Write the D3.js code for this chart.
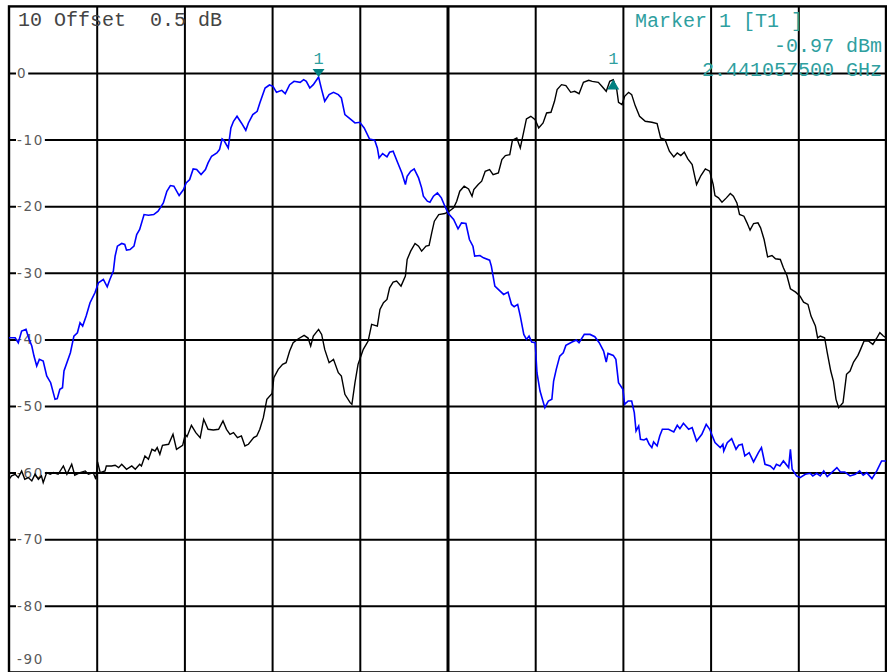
<!DOCTYPE html>
<html><head><meta charset="utf-8">
<script src="https://cdn.jsdelivr.net/npm/d3@7/dist/d3.min.js"></script>
<style>html,body{margin:0;padding:0;background:#fff;overflow:hidden}</style>
</head><body><svg id="c" width="887" height="672"></svg>
<script>
// ---- data ----
const spanGrid = [10, 20, 30, 40, 50, 60, 70, 80, 90];        // % of span, vertical divisions
const levelTicks = [0, -10, -20, -30, -40, -50, -60, -70, -80, -90]; // dBm
const levelTickLabels = ["0", "-10", "-20", "-30", "-40", "-50", "-60", "-70", "-80", "-90"];
const headerText = "10 Offset  0.5 dB";
const markerInfo = ["Marker 1 [T1 ]", "-0.97 dBm", "2.441057500 GHz"];
const markerPct = [35.3, 68.9];
const markerLevel = [-0.6, -0.97];
const markerDir = ["down", "up"];
const markerLabel = ["1", "1"];

// [% of span, dBm]
const blueTrace = [
[0,-39.75],[0.7,-39.75],[1.06,-40.5],[1.44,-38.75],[1.94,-38.5],[2.3,-40],[2.6,-41],[2.85,-42.5],[3.16,-44],[3.46,-43],
[3.9,-43.25],[4.3,-45.5],[4.75,-46.5],[5.25,-49],[5.5,-48.9],[5.8,-47.5],[6.1,-47.25],[6.27,-44.75],[7.0,-42],[7.4,-39.5],
[7.8,-39],[8.1,-37.5],[8.4,-38],[8.8,-36.5],[9.24,-34.5],[9.8,-33],[10.2,-31.5],[10.76,-31],[11.2,-32.1],[11.5,-31],
[11.9,-29.75],[12.1,-27.5],[12.36,-26],[12.85,-25.6],[13.2,-25.75],[13.4,-26.6],[13.8,-26.5],[14.25,-26],[14.56,-24.25],[14.9,-23.5],
[15.4,-21.25],[15.9,-21.35],[16.5,-21.25],[17.0,-20.75],[17.6,-19.5],[18.0,-17.75],[18.4,-16.9],[18.8,-17],[19.4,-18.4],[19.9,-17.5],
[20.2,-16.5],[20.6,-16],[21.0,-14.4],[21.4,-14.5],[21.9,-15.25],[22.4,-14.5],[22.7,-13.5],[23.1,-12.5],[23.7,-12],[24.0,-11.5],
[24.3,-9.9],[24.5,-10.1],[25.0,-11.25],[25.3,-8.25],[25.6,-7.25],[26.0,-6.5],[26.5,-7.5],[27.0,-8.6],[27.3,-7.5],[27.8,-6.25],
[28.3,-5.75],[28.6,-4.5],[29.2,-2.25],[29.7,-1.8],[30.1,-2],[30.5,-2.9],[31.1,-2.6],[31.5,-3.1],[32.0,-1.75],[32.5,-1.25],
[33.2,-1.4],[33.6,-1],[33.9,-1.25],[34.3,-2.25],[34.7,-1.75],[35.3,-0.6],[35.65,-2.5],[36.0,-4.25],[36.5,-3.25],[37.0,-2.9],
[37.55,-3.25],[37.9,-3.75],[38.3,-6.25],[38.9,-6.9],[39.45,-7.5],[40.0,-7.4],[40.5,-8.25],[41.1,-9.9],[41.7,-10.1],[42.0,-11.25],
[42.2,-12.75],[42.6,-12.1],[43.1,-12.6],[43.4,-11.9],[43.8,-11.75],[44.3,-13.4],[44.8,-15],[45.2,-16.75],[45.4,-15.5],[45.8,-14.75],
[46.2,-14.4],[46.7,-15.75],[47.05,-17.25],[47.25,-18.5],[47.7,-19.25],[48.0,-19.4],[48.4,-18.5],[48.85,-18],[49.3,-18.75],[49.7,-20],
[50.1,-21.1],[50.7,-22],[51.2,-23.4],[51.6,-22.5],[52.1,-22.6],[52.5,-25],[52.9,-26],[53.1,-27.5],[53.7,-27.4],[54.1,-27.75],
[54.8,-28.1],[55.0,-29],[55.4,-32],[56.0,-32.75],[56.4,-33.25],[56.9,-32.9],[57.3,-34.75],[57.6,-35.1],[58.0,-34.75],[58.3,-36.5],
[58.7,-39.25],[59.0,-40],[59.3,-39.5],[59.6,-40.4],[60.0,-40.5],[60.2,-45],[60.55,-47.75],[61.1,-50.25],[61.5,-49.25],[61.9,-49],
[62.1,-46.25],[62.4,-44.5],[62.8,-42.5],[63.2,-42],[63.5,-40.9],[64.2,-40.4],[64.7,-40.1],[65.0,-40.5],[65.6,-39.25],[66.25,-39.25],
[66.8,-39.6],[67.3,-40.5],[67.8,-41.75],[68.1,-43.4],[68.3,-42.1],[68.9,-42.4],[69.2,-43],[69.5,-46.5],[70.0,-47.5],[70.2,-49.75],
[70.6,-49.25],[71.0,-49.25],[71.3,-51],[71.5,-53.75],[71.8,-53],[72.0,-55],[72.4,-55.1],[72.7,-54.9],[73.0,-55.75],[73.3,-56.25],
[73.5,-55.4],[73.9,-56],[74.2,-54.5],[74.5,-53.5],[75.2,-53.5],[75.8,-53.9],[76.2,-52.9],[76.5,-53.4],[76.9,-52.6],[77.5,-53.5],
[77.9,-53.25],[78.4,-55.25],[79.0,-54.25],[79.5,-52.75],[79.9,-53.5],[80.5,-55.5],[81.1,-56.25],[81.4,-55.75],[81.5,-56.75],[81.9,-55.5],
[82.4,-54.9],[82.9,-56.5],[83.2,-55.9],[83.6,-55.75],[83.9,-57.5],[84.4,-57],[84.9,-58.4],[85.45,-57],[85.8,-56.25],[86.2,-58.75],
[86.8,-59],[87.2,-59.5],[87.5,-58.75],[87.9,-59],[88.3,-58.25],[88.9,-59.25],[89.1,-56.5],[89.3,-59.5],[89.8,-60.5],[90.2,-60.75],
[90.8,-60.25],[91.35,-60.1],[91.65,-60.5],[92.1,-60.1],[92.5,-60.5],[92.9,-59.75],[93.3,-60.6],[93.8,-60],[94.4,-59.25],[94.8,-59.9],
[95.3,-59.9],[95.9,-60.5],[96.5,-60.25],[97.0,-59.75],[97.4,-60.4],[97.8,-60],[98.4,-60.9],[98.95,-59.75],[99.5,-58.25],[100,-58.25]
];

const blackTrace = [
[0,-61],[0.3,-60.5],[0.7,-60.25],[1.06,-60.75],[1.44,-59.75],[1.8,-61],[2.2,-60.75],[2.6,-61.25],[2.97,-60.25],[3.35,-61],
[3.7,-60.5],[3.9,-61.5],[4.3,-60],[4.7,-60.25],[5.06,-60],[5.6,-60.25],[6.2,-59],[6.6,-60.25],[7.15,-58.75],[7.5,-60.4],
[8.1,-60],[8.7,-59.75],[9.05,-60.25],[9.6,-60],[9.9,-61],[10.1,-58.4],[10.4,-60],[10.95,-59.75],[11.1,-59],[11.7,-59],
[12.1,-58.9],[12.5,-59.25],[12.85,-58.75],[13.4,-59.5],[14.0,-59],[14.4,-59.5],[14.9,-58.75],[15.1,-59],[15.5,-57.5],[15.9,-58],
[16.3,-56.5],[16.65,-56.75],[16.9,-56.25],[17.2,-57.25],[17.5,-55.9],[18.2,-55.75],[18.7,-54.25],[19.1,-56.5],[19.8,-55.9],[20.1,-54.25],
[20.3,-54.6],[20.8,-52.9],[21.3,-54],[21.8,-54.75],[22.2,-52],[22.7,-53.5],[23.3,-53.6],[23.9,-53.5],[24.4,-52.25],[24.8,-53.5],
[25.2,-54.25],[25.6,-54],[26.05,-54.75],[26.5,-54.5],[26.9,-56],[27.3,-55.75],[27.9,-54.75],[28.25,-54.5],[28.6,-53.5],[29.0,-51.75],
[29.4,-49],[30.0,-48.1],[30.2,-45.75],[30.7,-44.5],[31.2,-43.75],[31.6,-43.5],[32.0,-41.75],[32.4,-40.5],[33.0,-39.9],[33.65,-39.4],
[34.1,-39.8],[34.4,-41],[34.7,-39.5],[35.3,-38.5],[35.65,-39.25],[36.0,-41.5],[36.5,-43.5],[37.0,-43],[37.55,-45],[37.9,-45.5],
[38.3,-48.25],[38.9,-49.5],[39.1,-49.75],[39.45,-46.5],[39.8,-43.75],[40.4,-41.5],[40.95,-40.25],[41.35,-37.75],[42.0,-38],[42.3,-35.5],
[42.7,-34.5],[43.1,-34],[43.4,-32.25],[43.8,-31.4],[44.2,-31.25],[44.7,-32],[45.2,-30.5],[45.4,-28],[45.8,-26.75],[46.3,-25.6],
[46.7,-26],[47.05,-26.75],[47.55,-26],[47.9,-25.9],[48.2,-24],[48.5,-22.25],[49.0,-21.25],[49.7,-21.1],[50.2,-20.75],[50.7,-20.25],
[51.05,-19.25],[51.4,-17.75],[51.9,-17],[52.4,-17.4],[52.8,-18.5],[53.0,-17.5],[53.5,-16.75],[53.9,-16.25],[54.3,-14.75],[54.8,-14.5],
[55.2,-15.25],[55.8,-15],[56.2,-13],[56.6,-12.4],[57.1,-12.25],[57.4,-10.1],[57.9,-9.75],[58.3,-11.25],[58.7,-8.75],[59.0,-6.9],
[59.5,-6.5],[60.0,-7],[60.4,-8.25],[60.9,-7.5],[61.3,-6],[61.8,-5.9],[62.2,-4.25],[62.5,-2.5],[63.0,-1.75],[63.5,-1.9],
[64.05,-2.9],[64.5,-2.75],[65.0,-3.1],[65.5,-1.4],[66.1,-1.1],[66.5,-1.25],[67.2,-1.4],[67.6,-2],[68.1,-2.75],[68.5,-1.25],
[68.9,-1.0],[69.3,-2.5],[69.5,-4.4],[69.9,-4.75],[70.2,-3.5],[70.65,-2.9],[71.0,-3.25],[71.4,-4.9],[71.9,-6.5],[72.55,-7.25],
[73.3,-7.4],[73.9,-7.6],[74.3,-9.75],[74.8,-10],[75.3,-11.75],[75.8,-12.6],[76.2,-12],[76.6,-12.4],[77.0,-11.9],[77.4,-12.9],
[77.9,-13.75],[78.4,-16.75],[78.9,-15.4],[79.4,-14.4],[79.9,-14.75],[80.3,-16.75],[80.5,-18.4],[80.9,-18.75],[81.3,-19.4],[81.8,-18.75],
[82.25,-18.1],[82.6,-18.5],[83.0,-19.5],[83.3,-21.25],[83.8,-21.5],[84.15,-22.5],[84.5,-23.6],[84.9,-22.6],[85.4,-22.5],[85.7,-23.25],
[86.1,-25],[86.5,-27.6],[87.0,-27.4],[87.4,-27.9],[87.95,-28],[88.3,-29.25],[88.7,-30.4],[89.1,-32.4],[89.7,-32.9],[90.2,-33.5],
[90.6,-34.4],[91.1,-34.75],[91.45,-36.5],[91.95,-38],[92.2,-39.75],[92.5,-39.5],[93.0,-39.75],[93.3,-42],[93.7,-44.75],[94.0,-46.25],
[94.3,-49],[94.6,-50.25],[95.1,-49.5],[95.5,-45.25],[95.9,-44.75],[96.3,-43.4],[96.8,-42.4],[97.1,-41.5],[97.5,-40.25],[98.0,-40.25],
[98.5,-40.75],[98.9,-39.9],[99.3,-39],[99.7,-39.5],[100,-39.75]
];

// ---- layout ----
const W = 887, H = 672;
const L = 9, R = 886, T = 6.4, B = 672.4;
const x = d3.scaleLinear().domain([0, 100]).range([L, R]);
const y = d3.scaleLinear().domain([-90, 10]).range([B, T]);
const teal = "#2f9f9f";
const mono = "'Liberation Mono', 'DejaVu Sans Mono', monospace";

const svg = d3.select("#c");
svg.append("rect").attr("width", W).attr("height", H).attr("fill", "#fff");

// vertical grid
const vg = svg.append("g").attr("transform", `translate(0,${T})`)
  .call(d3.axisTop(x).tickValues(spanGrid).tickSize(-(B - T)).tickFormat(""));
vg.select(".domain").remove();
vg.selectAll(".tick line").attr("stroke", "#000")
  .attr("stroke-width", d => d === 50 ? 3 : 2);

// horizontal grid
const hg = svg.append("g").attr("transform", `translate(${L},0)`)
  .call(d3.axisLeft(y).tickValues(levelTicks.filter(v => v > -90)).tickSize(-(R - L)).tickFormat(""));
hg.select(".domain").remove();
hg.selectAll(".tick line").attr("stroke", "#000").attr("stroke-width", 2);

// frame
svg.append("rect").attr("x", L).attr("y", T).attr("width", R - L).attr("height", B - T)
  .attr("fill", "none").attr("stroke", "#000").attr("stroke-width", 2.4);

// level labels with white backing
const lab = svg.append("g");
levelTicks.forEach((v, i) => {
  const cy = Math.min(y(v), 659);
  const g = lab.append("g");
  const t = g.append("text").attr("x", 17).attr("y", cy)
    .attr("dominant-baseline", "central")
    .attr("font-family", "'DejaVu Sans', sans-serif").attr("font-size", 13.5)
    .attr("letter-spacing", "1.6px").attr("fill", "#5a5a5a")
    .text(levelTickLabels[i]);
  const bb = t.node().getBBox();
  g.insert("rect", "text").attr("x", bb.x - 1).attr("y", cy - 6)
    .attr("width", bb.width + 2).attr("height", 12).attr("fill", "#fff");
});

// header
svg.append("text").attr("x", 18).attr("y", 26).attr("font-family", mono)
  .attr("font-size", 20).attr("fill", "#444").style("white-space", "pre").text(headerText);

// marker info
svg.append("text").attr("x", 635).attr("y", 27).attr("font-family", mono)
  .attr("font-size", 20).attr("fill", teal).style("white-space", "pre").text(markerInfo[0]);
svg.append("text").attr("x", 882).attr("y", 52).attr("text-anchor", "end").attr("font-family", mono)
  .attr("font-size", 20).attr("fill", teal).style("white-space", "pre").text(markerInfo[1]);
svg.append("text").attr("x", 882).attr("y", 76).attr("text-anchor", "end").attr("font-family", mono)
  .attr("font-size", 20).attr("fill", teal).style("white-space", "pre").text(markerInfo[2]);

// traces
svg.append("clipPath").attr("id", "plot").append("rect")
  .attr("x", L).attr("y", T).attr("width", R - L).attr("height", B - T);
const line = d3.line().x(d => x(d[0])).y(d => y(d[1]));
svg.append("path").datum(blackTrace).attr("d", line).attr("fill", "none")
  .attr("stroke", "#000").attr("stroke-width", 1.4).attr("clip-path", "url(#plot)");
svg.append("path").datum(blueTrace).attr("d", line).attr("fill", "none")
  .attr("stroke", "#0000ff").attr("stroke-width", 1.6).attr("clip-path", "url(#plot)");

// markers
markerPct.forEach((p, i) => {
  const mx = x(p), my = y(markerLevel[i]);
  const pts = markerDir[i] === "down"
    ? [[mx, my], [mx - 6, my - 8], [mx + 6, my - 8]]
    : [[mx, my], [mx - 6, my + 10], [mx + 6, my + 10]];
  svg.append("path").attr("d", "M" + pts.join("L") + "Z").attr("fill", "#008080");
  svg.append("text").attr("x", mx).attr("y", markerDir[i] === "down" ? my - 13 : my - 15)
    .attr("text-anchor", "middle").attr("font-family", mono).attr("font-size", 17)
    .attr("fill", teal).text(markerLabel[i]);
});
</script></body></html>
